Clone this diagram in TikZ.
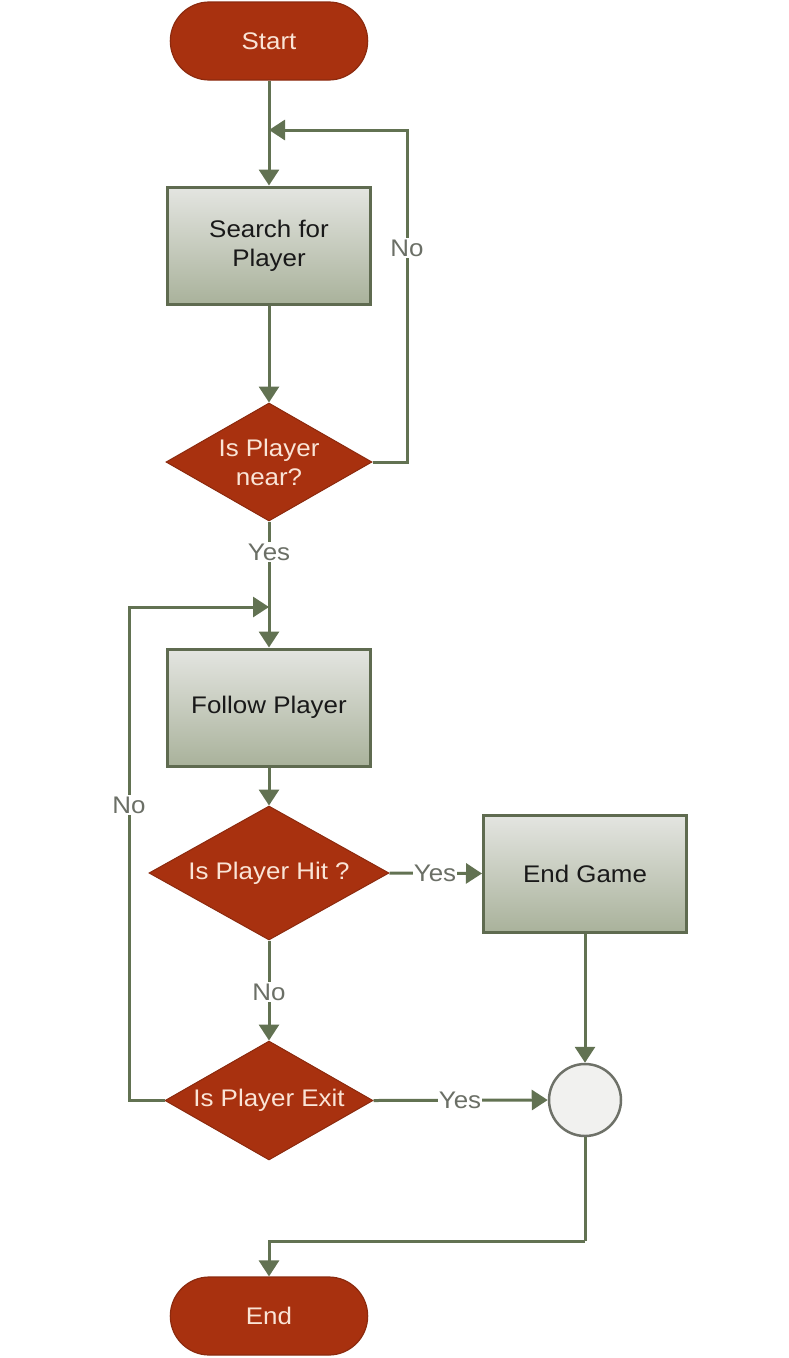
\documentclass[tikz,border=0pt]{standalone}
\usepackage{fontspec}
\setmainfont{Liberation Sans}[FakeStretch=1.08]
\usetikzlibrary{shapes.geometric,shapes.misc,arrows.meta}
\definecolor{redfill}{HTML}{A8310F}
\definecolor{redline}{HTML}{8C2A0E}
\definecolor{redtext}{HTML}{FAE4D6}
\definecolor{boxline}{HTML}{5F6B50}
\definecolor{conncol}{HTML}{627252}
\definecolor{lblcol}{HTML}{6B6F66}
\definecolor{boxtop}{HTML}{E4E5E1}
\definecolor{boxbot}{HTML}{A9B29B}
\definecolor{circfill}{HTML}{F1F1EF}
\definecolor{circline}{HTML}{6E7168}
\begin{document}
\begin{tikzpicture}[x=1pt,y=-1pt,
  every node/.style={font=\fontsize{24}{29}\selectfont, align=center},
  term/.style={rounded rectangle, fill=redfill, draw=redline, line width=1.2pt,
    text=redtext, minimum width=204pt, minimum height=78pt},
  proc/.style={rectangle, top color=boxtop, bottom color=boxbot, draw=boxline,
    line width=3pt, text=black!90, minimum width=203pt, minimum height=117pt},
  decis/.style={diamond, fill=redfill, draw=redline, line width=1pt, text=redtext,
    inner sep=0pt},
  conn/.style={draw=conncol, line width=3pt, -{Triangle[length=16pt,width=20pt]}},
  plain/.style={draw=conncol, line width=3pt},
  lbl/.style={fill=white, text=lblcol, inner sep=2pt}]
\useasboundingbox (0,0) rectangle (788,1358);

% nodes
\node[term] (start) at (269,41) {Start};
\node[proc] (search) at (269,245.5) {Search for\\Player};
\node[decis, minimum width=206pt, minimum height=118pt, aspect=1.75] (d1) at (269,462) {Is Player\\near?};
\node[proc] (follow) at (269,707.5) {Follow Player};
\node[decis, minimum width=240pt, minimum height=134pt, aspect=1.79] (d2) at (269,873) {Is Player Hit ?};
\node[proc] (endgame) at (585,873.5) {End Game};
\node[decis, minimum width=208pt, minimum height=119pt, aspect=1.75] (d3) at (269,1100.5) {Is Player Exit};
\node[circle, fill=circfill, draw=circline, line width=2.5pt, minimum size=72pt, inner sep=0pt] (merge) at (585,1100) {};
\node[term] (en) at (269,1316) {End};

% junction / corner coordinates
\coordinate (j1) at (269,130);
\coordinate (c1) at (407,130);
\coordinate (j2) at (269,607);
\coordinate (c2) at (129,607);
\coordinate (c3) at (585,1241);

% connectors
\draw[conn] (start.south) -- (search.north);
\draw[conn] (search.south) -- (d1.north);
\draw[conn] (d1.east) -| (c1) -- (j1);
\draw[conn] (d1.south) -- (follow.north);
\draw[conn] (d3.west) -| (c2) -- (j2);
\draw[conn] (follow.south) -- (d2.north);
\draw[conn] (d2.east) -- (endgame.west);
\draw[conn] (d2.south) -- (d3.north);
\draw[conn] (endgame.south) -- (merge.north);
\draw[conn] (d3.east) -- (merge.west);
\draw[plain] (merge.south) -- (c3);
\draw[conn] (c3) -| (en.north);

% labels
\node[lbl] (lno1) at (407,248) {No};
\node[lbl] (lyes1) at (269,552) {Yes};
\node[lbl] (lno2) at (129,805) {No};
\node[lbl, inner sep=1pt] (lyes2) at (435,873) {Yes};
\node[lbl] (lno3) at (269,992) {No};
\node[lbl, inner sep=1pt] (lyes3) at (460,1100) {Yes};
\end{tikzpicture}
\end{document}
